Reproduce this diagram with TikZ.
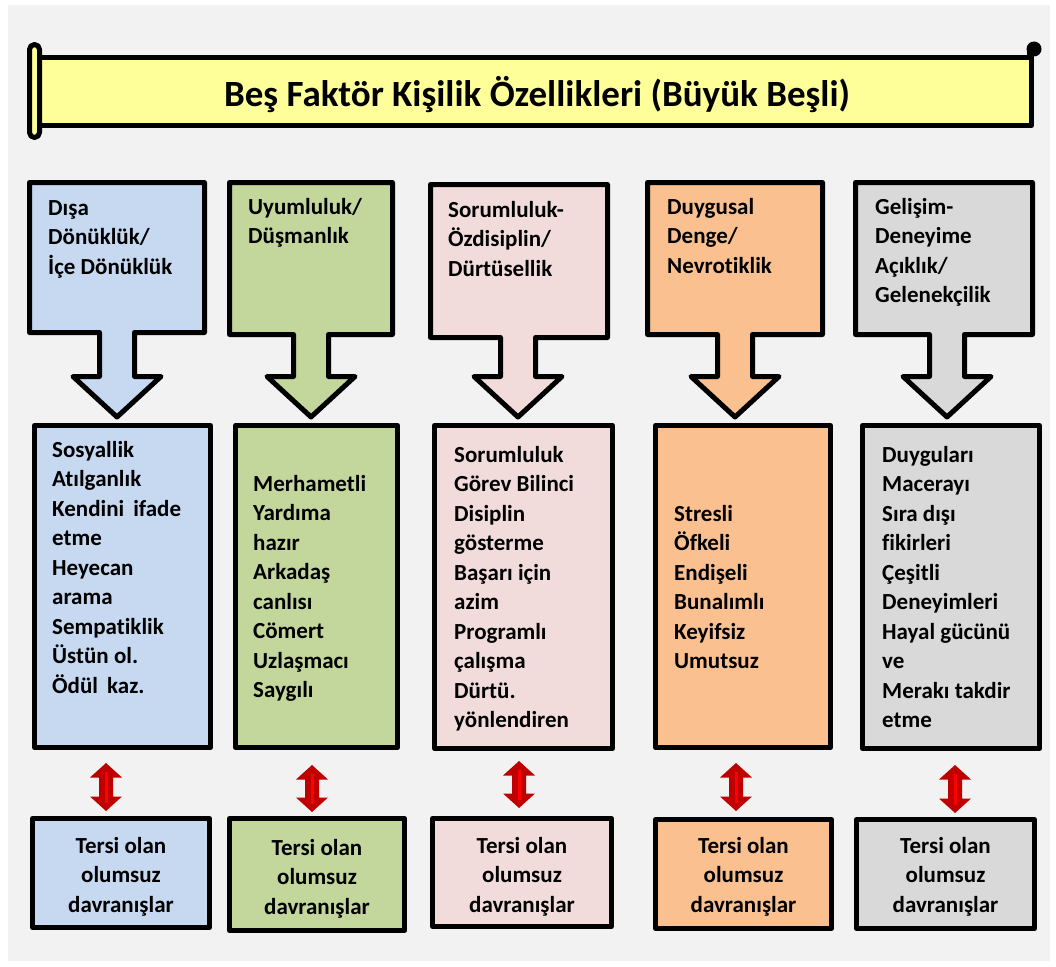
\documentclass[tikz,border=0pt]{standalone}
\usepackage{fontspec}
\setmainfont{Carlito}[Ligatures={NoCommon,NoContextual},RawFeature={-liga;-clig;-dlig}]
\definecolor{pagebg}{HTML}{F2F2F2}
\definecolor{scrollyellow}{HTML}{FFFF99}
\definecolor{bluefill}{HTML}{C6D9F1}
\definecolor{greenfill}{HTML}{C3D69B}
\definecolor{pinkfill}{HTML}{F2DCDB}
\definecolor{orangefill}{HTML}{FAC090}
\definecolor{grayfill}{HTML}{D9D9D9}
\definecolor{darkred}{HTML}{C00000}
\definecolor{brightred}{HTML}{FF0000}

% box with a downward block arrow: left, top, right, bottom, arrow centre x, fill
\newcommand\bfcallout[6]{%
  \draw[outline, fill=#6] (#1,#2) -- (#3,#2) -- (#3,#4) -- (#5+17.5,#4)
    -- (#5+17.5,376.5) -- (#5+44,376.5) -- (#5,417) -- (#5-44,376.5)
    -- (#5-17.5,376.5) -- (#5-17.5,#4) -- (#1,#4) -- cycle;}
% red two-headed block arrow: centre x, top, bottom
\newcommand\bfswap[3]{%
  \fill[darkred] (#1,#2) -- (#1+16,#2+14.5) -- (#1+7,#2+14.5) -- (#1+7,#3-14.5)
    -- (#1+16,#3-14.5) -- (#1,#3) -- (#1-16,#3-14.5) -- (#1-7,#3-14.5)
    -- (#1-7,#2+14.5) -- (#1-16,#2+14.5) -- cycle;
  \draw[brightred, line width=3pt] (#1,#2+9) -- (#1,#3-8);}

\begin{document}
\begin{tikzpicture}[x=1pt, y=-1pt,
  outline/.style={draw=black, line width=5pt, line join=round},
  panel/.style={outline, rectangle, inner sep=0pt},
  lbl/.style={anchor=north west, inner sep=0pt, align=left,
    font=\fontsize{23}{29.5}\selectfont\bfseries},
  clbl/.style={anchor=north, inner sep=0pt, align=center,
    font=\fontsize{23}{29.5}\selectfont\bfseries}]
\useasboundingbox (0,0) rectangle (1056,966);
\fill[white] (0,0) rectangle (1056,966);
\fill[pagebg] (8,5) rectangle (1050,961);

% title scroll
\draw[outline, fill=scrollyellow] (37.5,57.5) rectangle (1031.5,125.5);
\draw[outline, fill=scrollyellow, rounded corners=5pt] (29.5,44.5) rectangle (39.5,137.5);
\fill[black] (1034,49) circle (7.5);
\fill[black] (1026.5,49) rectangle (1034,60);
\node[anchor=base, inner sep=0pt, font=\fontsize{37}{44}\selectfont\bfseries] (title)
  at (537,106) {Beş Faktör Kişilik Özellikleri (Büyük Beşli)};

% factor headings with arrows
\bfcallout{29.5}{182.5}{204.5}{332.5}{117}{bluefill}
\bfcallout{229.5}{182.5}{392.5}{334.5}{311}{greenfill}
\bfcallout{430.5}{184.5}{607.5}{337.5}{518}{pinkfill}
\bfcallout{647.5}{182.5}{822.5}{334.5}{735}{orangefill}
\bfcallout{855.5}{182.5}{1032.5}{334.5}{947}{grayfill}

\node[lbl] (h1) at (48,198) {\rule{0pt}{17pt}Dışa\\Dönüklük/\\İçe Dönüklük};
\node[lbl] (h2) at (248,197) {\rule{0pt}{17pt}Uyumluluk/\\Düşmanlık};
\node[lbl] (h3) at (448,200) {\rule{0pt}{17pt}Sorumluluk-\\Özdisiplin/\\Dürtüsellik};
\node[lbl] (h4) at (667,197) {\rule{0pt}{17pt}Duygusal\\Denge/\\Nevrotiklik};
\node[lbl] (h5) at (875,197) {\rule{0pt}{17pt}Gelişim-\\Deneyime\\Açıklık/\\Gelenekçilik};

% trait boxes
\node[panel, fill=bluefill, minimum width=176pt, minimum height=322pt] (m1) at (122.5,586.5) {};
\node[panel, fill=greenfill, minimum width=162pt, minimum height=322pt] (m2) at (316.5,586.5) {};
\node[panel, fill=pinkfill, minimum width=178pt, minimum height=323pt] (m3) at (523.5,587) {};
\node[panel, fill=orangefill, minimum width=175pt, minimum height=322pt] (m4) at (743,586.5) {};
\node[panel, fill=grayfill, minimum width=177pt, minimum height=323pt] (m5) at (951,587) {};

\node[lbl] (t1) at (52,440) {\rule{0pt}{17pt}Sosyallik\\Atılganlık\\Kendini\hspace{9pt}ifade\\etme\\Heyecan\\arama\\Sempatiklik\\Üstün ol.\\Ödül\hspace{9pt}kaz.};
\node[lbl] (t2) at (253,474) {\rule{0pt}{17pt}Merhametli\\Yardıma\\hazır\\Arkadaş\\canlısı\\Cömert\\Uzlaşmacı\\Saygılı};
\node[lbl] (t3) at (454,445) {\rule{0pt}{17pt}Sorumluluk\\Görev Bilinci\\Disiplin\\gösterme\\Başarı için\\azim\\Programlı\\çalışma\\Dürtü.\\yönlendiren};
\node[lbl] (t4) at (674,504) {\rule{0pt}{17pt}Stresli\\Öfkeli\\Endişeli\\Bunalımlı\\Keyifsiz\\Umutsuz};
\node[lbl] (t5) at (882,445) {\rule{0pt}{17pt}Duyguları\\Macerayı\\Sıra dışı\\fikirleri\\Çeşitli\\Deneyimleri\\Hayal gücünü\\ve\\Merakı takdir\\etme};

% opposite-pole arrows
\bfswap{106}{763}{811}
\bfswap{312}{765}{812}
\bfswap{519}{761}{808}
\bfswap{736}{763}{811}
\bfswap{955}{765}{813}

% opposite behaviour boxes
\node[panel, fill=bluefill, minimum width=177pt, minimum height=109pt] (b1) at (121,873) {};
\node[panel, fill=greenfill, minimum width=175pt, minimum height=112pt] (b2) at (317,874.5) {};
\node[panel, fill=pinkfill, minimum width=179pt, minimum height=108pt] (b3) at (522,872.5) {};
\node[panel, fill=orangefill, minimum width=176pt, minimum height=109pt] (b4) at (743.5,874) {};
\node[panel, fill=grayfill, minimum width=178pt, minimum height=109pt] (b5) at (945.5,874) {};

\node[clbl] (o1) at (121,836) {\rule{0pt}{17pt}Tersi olan\\olumsuz\\davranışlar};
\node[clbl] (o2) at (317,838) {\rule{0pt}{17pt}Tersi olan\\olumsuz\\davranışlar};
\node[clbl] (o3) at (522,836) {\rule{0pt}{17pt}Tersi olan\\olumsuz\\davranışlar};
\node[clbl] (o4) at (743.5,836) {\rule{0pt}{17pt}Tersi olan\\olumsuz\\davranışlar};
\node[clbl] (o5) at (945.5,836) {\rule{0pt}{17pt}Tersi olan\\olumsuz\\davranışlar};
\end{tikzpicture}
\end{document}
